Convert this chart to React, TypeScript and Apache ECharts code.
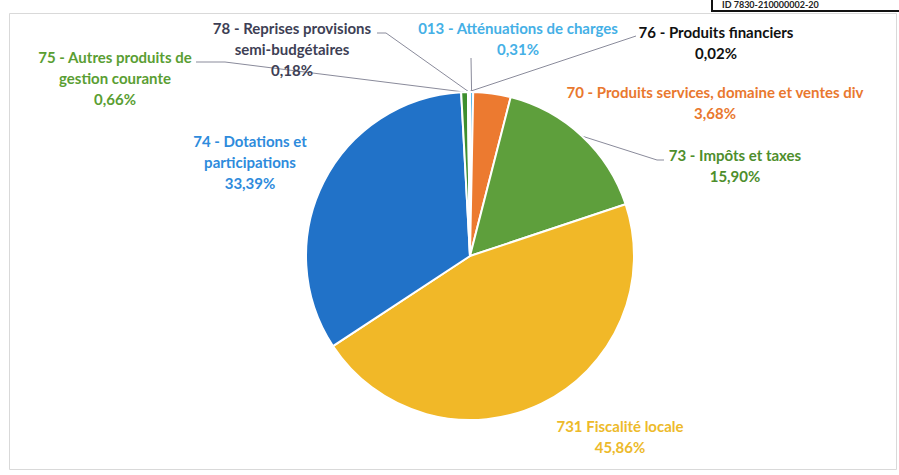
import React, { useEffect, useRef } from "react";
import * as echarts from "echarts";

const categories = [
  "013 - Atténuations de charges",
  "70 - Produits services, domaine et ventes div",
  "73 - Impôts et taxes",
  "731 Fiscalité locale",
  "74 - Dotations et participations",
  "75 - Autres produits de gestion courante",
  "76 - Produits financiers",
  "78 - Reprises provisions semi-budgétaires",
];
const labelTexts = [
  "013 - Atténuations de charges",
  "70 - Produits services, domaine et ventes div",
  "73 - Impôts et taxes",
  "731 Fiscalité locale",
  "74 - Dotations et\nparticipations",
  "75 - Autres produits de\ngestion courante",
  "76 - Produits financiers",
  "78 - Reprises provisions\nsemi-budgétaires",
];
const shares = [0.31, 3.68, 15.9, 45.86, 33.39, 0.66, 0.02, 0.18];

const sliceColors = ["#5BB8E8", "#EC7A30", "#5E9F3C", "#F1B828", "#2172C8", "#3E8F2E", "#222222", "#3F4160"];
const textColors = ["#45B0E6", "#E9782E", "#4E8E2C", "#EDBA2A", "#2E8BDC", "#5A9E33", "#111111", "#3E3F55"];

// label layout (centre of each label block) and leader-line elbows
const labelCenters: [number, number][] = [
  [518, 38],
  [715, 102],
  [735, 165],
  [620, 436],
  [250, 162],
  [115, 78],
  [716, 42],
  [292, 49],
];
const leaderElbows: ([number, number][] | null)[] = [
  [[471, 58]],
  null,
  [[657, 160], [664, 160]],
  null,
  null,
  [[225, 62], [196, 62]],
  [[636, 36]],
  [[386, 33], [377, 33]],
];

const fmt = (v: number) => v.toFixed(2).replace(".", ",") + "%";

export default function App() {
  const ref = useRef<HTMLDivElement>(null);
  useEffect(() => {
    if (!ref.current) return;
    const chart = echarts.init(ref.current, null, { renderer: "svg" });
    chart.setOption({
      animation: false,
      backgroundColor: "#ffffff",
      graphic: [
        {
          type: "rect",
          shape: { x: 9.5, y: 13.5, width: 887, height: 456 },
          style: { fill: "none", stroke: "#d9d9d9", lineWidth: 1 },
          z: -1,
        },
        {
          type: "rect",
          shape: { x: 712, y: -4, width: 192, height: 15 },
          style: { fill: "#ffffff", stroke: "#111111", lineWidth: 2 },
        },
        {
          type: "text",
          x: 722,
          y: 0,
          style: {
            text: "ID 7830-210000002-20",
            font: "bold 9px Lato",
            fill: "#222222",
          },
        },
      ],
      series: [
        {
          type: "pie",
          center: [470, 256],
          radius: 164,
          startAngle: 90,
          clockwise: true,
          avoidLabelOverlap: false,
          itemStyle: { borderColor: "#ffffff", borderWidth: 2 },
          label: {
            show: true,
            position: "outside",
            fontFamily: "Lato",
            fontWeight: "bold",
            fontSize: 15,
            lineHeight: 21,
            align: "center",
          },
          labelLine: {
            show: true,
            lineStyle: { color: "#8a8b9b", width: 1 },
          },
          labelLayout: (params: any) => {
            const i = params.dataIndex;
            const [x, y] = labelCenters[i];
            const res: any = { x, y, align: "center", verticalAlign: "middle" };
            const elbows = leaderElbows[i];
            if (elbows && params.labelLinePoints) {
              res.labelLinePoints = [params.labelLinePoints[0], ...elbows];
            }
            return res;
          },
          data: categories.map((name, i) => ({
            name,
            value: shares[i],
            itemStyle: { color: sliceColors[i] },
            label: {
              color: textColors[i],
              formatter: labelTexts[i] + "\n" + fmt(shares[i]),
            },
            labelLine: { show: leaderElbows[i] !== null },
          })),
        },
      ],
    });
    return () => chart.dispose();
  }, []);
  return (
    <div
      ref={ref}
      style={{ position: "fixed", left: 0, top: 0, width: 899, height: 475 }}
    />
  );
}
